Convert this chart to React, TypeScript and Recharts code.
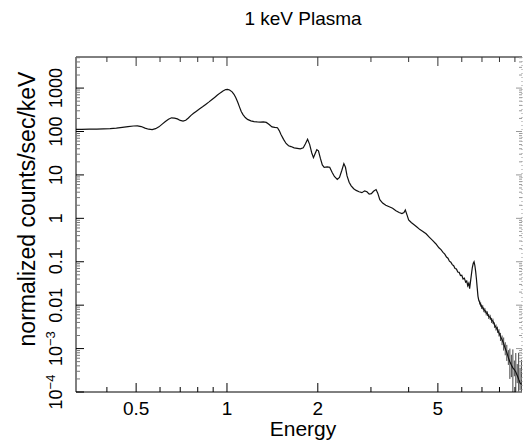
import { ErrorBar, Line, LineChart, XAxis, YAxis } from "recharts";

const FONT = '"Liberation Sans", Arial, Helvetica, sans-serif';

// spectrum (keV, normalized counts/sec/keV)
const energy = [
  0.316, 0.33, 0.35, 0.37, 0.39, 0.41, 0.43, 0.45, 0.47, 0.49, 0.505, 0.52, 0.535, 0.55, 0.565, 0.58,
  0.595, 0.61, 0.625, 0.64, 0.655, 0.67, 0.685, 0.7, 0.715, 0.73, 0.745, 0.76, 0.775, 0.79, 0.81, 0.83,
  0.85, 0.87, 0.89, 0.91, 0.93, 0.95, 0.97, 0.99, 1.005, 1.02, 1.04, 1.055, 1.07, 1.085, 1.1, 1.115,
  1.13, 1.15, 1.17, 1.2, 1.23, 1.26, 1.29, 1.32, 1.35, 1.38, 1.41, 1.44, 1.47, 1.49, 1.51, 1.54,
  1.57, 1.6, 1.63, 1.67, 1.71, 1.75, 1.79, 1.82, 1.85, 1.88, 1.91, 1.935, 1.96, 1.985, 2.01, 2.04,
  2.07, 2.1, 2.15, 2.19, 2.23, 2.27, 2.32, 2.36, 2.4, 2.44, 2.47, 2.5, 2.54, 2.58, 2.63, 2.68,
  2.74, 2.8, 2.86, 2.91, 2.96, 3.01, 3.06, 3.12, 3.16, 3.21, 3.28, 3.36, 3.45, 3.54, 3.63, 3.72,
  3.8, 3.86, 3.9, 3.95, 4.0, 4.08, 4.17, 4.26, 4.36, 4.46, 4.57, 4.68, 4.8, 4.92, 5.04, 5.12,
  5.2, 5.27, 5.34, 5.4, 5.46, 5.52, 5.58, 5.64, 5.7, 5.76, 5.82, 5.88, 5.94, 6.0, 6.06, 6.12,
  6.18, 6.23, 6.28, 6.33, 6.37, 6.41, 6.45, 6.5, 6.55, 6.59, 6.63, 6.67, 6.71, 6.75, 6.79, 6.83,
  6.88, 6.93, 6.98, 7.04, 7.1, 7.16, 7.23, 7.3, 7.37, 7.45, 7.53, 7.61, 7.7, 7.79, 7.88, 7.97,
  8.06, 8.16, 8.26, 8.36, 8.46, 8.56, 8.66, 8.76, 8.86, 8.96, 9.06, 9.16, 9.26, 9.36, 9.46,
];
const counts = [
  112, 112, 113, 113, 115, 117, 120, 125, 130, 134, 135, 130, 120, 113, 111, 116,
  128, 148, 170, 192, 207, 204, 195, 180, 174, 182, 205, 235, 262, 290, 330, 370,
  420, 475, 540, 610, 690, 775, 860, 925, 935, 905, 820, 720, 600, 480, 370, 290,
  245, 210, 190, 176, 169, 166, 165, 166, 162, 145, 128, 124, 122, 105, 85, 66,
  53, 47, 45, 42, 41, 40, 42, 52, 66, 50, 32, 25, 31, 38, 36, 24,
  17, 15, 15.3, 15, 11.5, 9.2, 7.9, 8.8, 12.5, 18.2, 15, 9.5, 6.8, 5.6, 4.8, 4.4,
  4.1, 3.9, 4.3, 4.1, 3.6, 3.7, 4.2, 4.6, 3.8, 2.7, 2.25, 2.0, 1.85, 1.7, 1.5, 1.36,
  1.29, 1.36, 1.55, 1.2, 0.92, 0.8, 0.71, 0.63, 0.55, 0.5, 0.44, 0.37, 0.31, 0.26, 0.21, 0.19,
  0.165, 0.15, 0.128, 0.121, 0.103, 0.098, 0.086, 0.081, 0.07, 0.068, 0.058, 0.057, 0.048, 0.049, 0.04, 0.042,
  0.034, 0.036, 0.028, 0.032, 0.024, 0.034, 0.048, 0.072, 0.092, 0.1, 0.082, 0.06, 0.04, 0.025, 0.016, 0.013,
  0.0115, 0.0104, 0.0092, 0.009, 0.0078, 0.0076, 0.0066, 0.0064, 0.0055, 0.0053, 0.0045, 0.0043, 0.0035, 0.0031, 0.0027, 0.0023,
  0.0019, 0.0016, 0.0013, 0.001, 0.00082, 0.00062, 0.0005, 0.00042, 0.00036, 0.00033, 0.00029, 0.00024, 0.0002, 0.00016, 0.00015,
];
// error bars of the last bins (from 6.88 keV on)
const tailErrLow = [
  0.0012, 0.0011, 0.001, 0.001, 0.0009, 0.0009, 0.0008, 0.0008, 0.0007, 0.0007, 0.0006, 0.0006, 0.0005, 0.0005, 0.0004, 0.0004,
  0.0004, 0.0004, 0.0004, 0.0003, 0.0003, 0.0002, 0.0003, 0.0002, 0.00026, 0.0001, 0.00019, 0.00008, 0.000099, 0.00005, 0.000049,
];
const tailErrHigh = [
  0.0013, 0.0012, 0.0011, 0.001, 0.0009, 0.0009, 0.0008, 0.0008, 0.0007, 0.0007, 0.0006, 0.0006, 0.0005, 0.0005, 0.0005, 0.0005,
  0.0004, 0.0004, 0.0005, 0.0004, 0.0004, 0.0003, 0.0005, 0.0003, 0.0006, 0.0002, 0.0005, 0.0002, 0.0006, 0.0002, 0.0004,
];

const xMajorTicks = [0.5, 1, 2, 5];
const xMajorLabels = ["0.5", "1", "2", "5"];
const xMinorTicks = [0.4, 0.6, 0.7, 0.8, 0.9, 3, 4, 6, 7, 8, 9];
const yMajorTicks = [1e-4, 1e-3, 0.01, 0.1, 1, 10, 100, 1000];
const yMajorLabels = ["10^-4", "10^-3", "0.01", "0.1", "1", "10", "100", "1000"];
const yMinorTicks = [1e-4, 1e-3, 0.01, 0.1, 1, 10, 100, 1000]
  .flatMap((d) => [2, 3, 4, 5, 6, 7, 8, 9].map((m) => +(m * d).toPrecision(3)))
  .filter((v) => v < 5200);

const xDomain = [0.316, 9.5];
const yDomain = [1e-4, 5200];

const tailStart = energy.length - tailErrLow.length;
const data = energy.map((e, i) => ({
  e,
  c: counts[i],
  err: i >= tailStart ? [tailErrLow[i - tailStart], tailErrHigh[i - tailStart]] : [0, 0],
}));

const xTicks = [...xMajorTicks, ...xMinorTicks].sort((a, b) => a - b);
const yTicks = [...yMajorTicks, ...yMinorTicks].sort((a, b) => a - b);

function YLabel({ x, y, text }: { x: number; y: number; text: string }) {
  const [base, exp] = text.split("^");
  return (
    <text
      x={x}
      y={y}
      transform={`rotate(-90 ${x} ${y})`}
      textAnchor="middle"
      fontSize={18}
      fontFamily={FONT}
      fill="#000"
    >
      {base}
      {exp ? (
        <tspan dy={-7} fontSize={13}>
          {exp.replace("-", "\u2212")}
        </tspan>
      ) : null}
    </text>
  );
}

const bottomTick = (p: any) => {
  const x = p.payload.coordinate;
  const i = xMajorTicks.indexOf(p.payload.value);
  return (
    <g>
      <line x1={x} x2={x} y1={p.y} y2={p.y - (i >= 0 ? 9 : 5)} stroke="#000" />
      {i >= 0 ? (
        <text x={x} y={p.y + 23} textAnchor="middle" fontSize={19} fontFamily={FONT} fill="#000">
          {xMajorLabels[i]}
        </text>
      ) : null}
    </g>
  );
};

const topTick = (p: any) => {
  const x = p.payload.coordinate;
  const major = xMajorTicks.includes(p.payload.value);
  return <line x1={x} x2={x} y1={p.y} y2={p.y + (major ? 9 : 5)} stroke="#333" />;
};

const leftTick = (p: any) => {
  const y = p.payload.coordinate;
  const i = yMajorTicks.indexOf(p.payload.value);
  return (
    <g>
      <line x1={p.x} x2={p.x + (i >= 0 ? 8 : 4)} y1={y} y2={y} stroke={i >= 0 ? "#000" : "#777"} />
      {i >= 0 ? <YLabel x={p.x - 14} y={y} text={yMajorLabels[i]} /> : null}
    </g>
  );
};

const rightTick = (p: any) => {
  const y = p.payload.coordinate;
  const major = yMajorTicks.includes(p.payload.value);
  return <line x1={p.x} x2={p.x - (major ? 6 : 3)} y1={y} y2={y} stroke="#999" />;
};

export default function App() {
  return (
    <div style={{ position: "absolute", left: 0, top: 0, width: 525, height: 446, background: "#fff" }}>
      <LineChart width={525} height={446} data={data} margin={{ top: 0, right: 0, bottom: 0, left: 0 }}>
        <XAxis
          xAxisId="top"
          orientation="top"
          dataKey="e"
          type="number"
          scale="log"
          domain={xDomain}
          allowDataOverflow
          ticks={xTicks}
          interval={0}
          height={57}
          tickSize={0}
          tickMargin={0}
          tickLine={false}
          axisLine={{ stroke: "#000" }}
          tick={topTick}
        />
        <XAxis
          dataKey="e"
          type="number"
          scale="log"
          domain={xDomain}
          allowDataOverflow
          ticks={xTicks}
          interval={0}
          height={54}
          tickSize={0}
          tickMargin={0}
          tickLine={false}
          axisLine={{ stroke: "#000" }}
          tick={bottomTick}
        />
        <YAxis
          type="number"
          scale="log"
          domain={yDomain}
          allowDataOverflow
          ticks={yTicks}
          interval={0}
          width={76}
          tickSize={0}
          tickMargin={0}
          tickLine={false}
          axisLine={{ stroke: "#000" }}
          tick={leftTick}
        />
        <YAxis
          yAxisId="right"
          orientation="right"
          type="number"
          scale="log"
          domain={yDomain}
          allowDataOverflow
          ticks={yTicks}
          interval={0}
          width={3}
          tickSize={0}
          tickMargin={0}
          tickLine={false}
          axisLine={{ stroke: "#999", strokeDasharray: "1 3" }}
          tick={rightTick}
        />
        <Line
          dataKey="c"
          type="linear"
          stroke="#111"
          strokeWidth={1.2}
          dot={false}
          isAnimationActive={false}
        >
          <ErrorBar dataKey="err" direction="y" width={0} stroke="#444" strokeWidth={1} isAnimationActive={false} />
        </Line>
      </LineChart>
      <svg width={525} height={446} style={{ position: "absolute", left: 0, top: 0, pointerEvents: "none" }}>
        <text x={303} y={25} textAnchor="middle" fontSize={19} fontFamily={FONT} fill="#000">
          1 keV Plasma
        </text>
        <text x={303} y={436} textAnchor="middle" fontSize={21} fontFamily={FONT} fill="#000">
          Energy
        </text>
        <text
          x={35}
          y={209}
          transform="rotate(-90 35 209)"
          textAnchor="middle"
          fontSize={23}
          fontFamily={FONT}
          fill="#000"
        >
          normalized counts/sec/keV
        </text>
      </svg>
    </div>
  );
}
